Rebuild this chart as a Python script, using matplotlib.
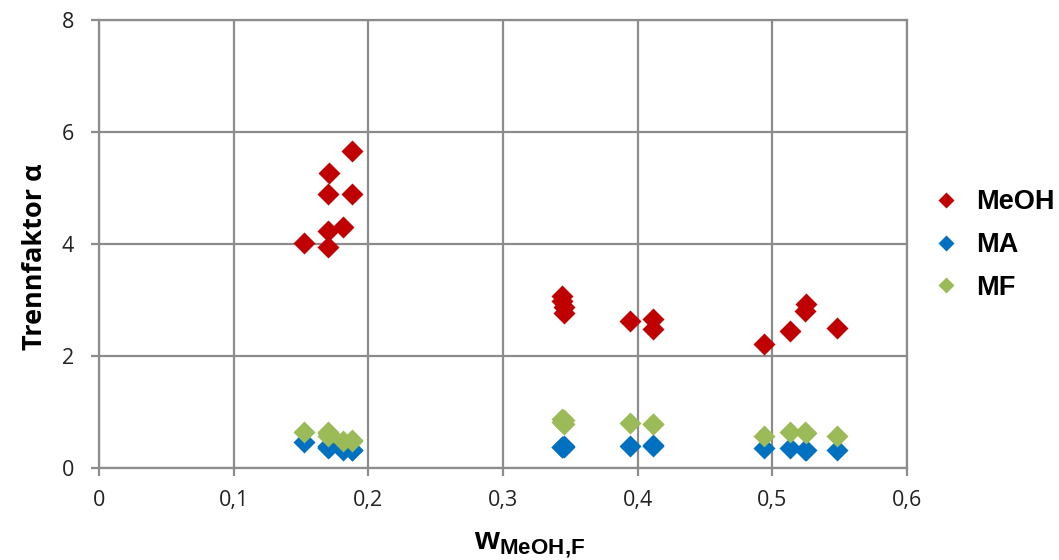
import matplotlib.pyplot as plt
from matplotlib.ticker import FuncFormatter, MultipleLocator

# Massenanteil Methanol im Feed
w_feed = [0.152, 0.170, 0.170, 0.170, 0.171, 0.181, 0.188, 0.188,
          0.344, 0.344, 0.345, 0.345, 0.394, 0.411, 0.411,
          0.494, 0.513, 0.524, 0.525, 0.548]

alpha_meoh = [4.02, 3.94, 4.24, 4.90, 5.26, 4.30, 4.90, 5.66,
              3.08, 2.98, 2.88, 2.77, 2.62, 2.66, 2.48,
              2.22, 2.45, 2.80, 2.92, 2.50]
alpha_ma = [0.47, 0.38, 0.36, 0.40, 0.37, 0.33, 0.32, 0.33,
            0.38, 0.37, 0.39, 0.38, 0.39, 0.41, 0.40,
            0.36, 0.35, 0.33, 0.32, 0.32]
alpha_mf = [0.65, 0.63, 0.58, 0.65, 0.60, 0.49, 0.50, 0.48,
            0.88, 0.82, 0.78, 0.85, 0.80, 0.79, 0.78,
            0.58, 0.65, 0.64, 0.62, 0.58]

plt.rcParams['mathtext.fontset'] = 'custom'
plt.rcParams['mathtext.bf'] = 'Liberation Sans:bold'
plt.rcParams['mathtext.rm'] = 'Liberation Sans'

fig = plt.figure(figsize=(10.59, 5.6), dpi=100)
ax = fig.add_axes([0.0935, 0.1643, 0.763, 0.8])

gridcol = '#8c8c8c'
ax.grid(True, color=gridcol, linewidth=1.6)
ax.set_axisbelow(True)
for s in ax.spines.values():
    s.set_color(gridcol)
    s.set_linewidth(1.6)

ms = 11
ax.plot(w_feed, alpha_meoh, 'D', color='#C00000', ms=ms, mec='none', label='MeOH')
ax.plot(w_feed, alpha_ma, 'D', color='#0070C0', ms=ms, mec='none', label='MA')
ax.plot(w_feed, alpha_mf, 'D', color='#9BBB59', ms=ms, mec='none', label='MF')

ax.set_xlim(0, 0.6)
ax.set_ylim(0, 8)
ax.xaxis.set_major_locator(MultipleLocator(0.1))
ax.yaxis.set_major_locator(MultipleLocator(2))
komma = FuncFormatter(lambda v, p: ('%g' % round(v, 3)).replace('.', ','))
ax.xaxis.set_major_formatter(komma)
ax.yaxis.set_major_formatter(komma)
ax.tick_params(direction='out', length=6, width=1.6, color=gridcol,
               labelsize=15.5, labelcolor='#222222')
ax.tick_params(axis='x', pad=10)
ax.tick_params(axis='y', pad=12)
for lab in ax.get_xticklabels() + ax.get_yticklabels():
    lab.set_family('Open Sans')

ax.set_ylabel('Trennfaktor α', fontsize=19.5, fontweight='bold',
              family='Open Sans', labelpad=10)
ax.yaxis.label.set_y(0.471)
ax.set_xlabel(r'$\mathbf{w}_{\mathbf{MeOH{,}F}}$', fontsize=23, labelpad=13)
ax.xaxis.label.set_x(0.533)

fig.legend(loc='center left', bbox_to_anchor=(0.855, 0.5625), frameon=False,
           prop={'family': 'Liberation Sans', 'weight': 'bold', 'size': 19.5},
           handletextpad=0.5, labelspacing=0.62, handlelength=1.2,
           markerscale=0.75)

fig.savefig('out.png', dpi=100)
